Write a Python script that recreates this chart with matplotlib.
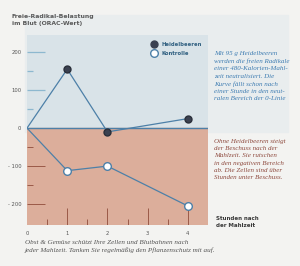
import matplotlib.pyplot as plt
from matplotlib.lines import Line2D
from matplotlib.patches import Rectangle

# data
hours = [0, 1, 2, 4]
heidelbeeren = [0, 155, -10, 25]
kontrolle = [0, -112, -100, -205]

y_ticks = [200, 100, 0, -100, -200]
y_labels = ["200", "100", "0", "- 100", "- 200"]
x_ticks = [0, 1, 2, 3, 4]

line_col = "#4d80a8"
blue_bg = "#d9e3e8"
pink_bg = "#dcae9b"
tick_blue = "#8db8cf"
tick_brown = "#9a5a48"

plt.rcParams["font.family"] = ["DejaVu Sans"]

fig = plt.figure(figsize=(3.0, 2.66), dpi=100)
fig.patch.set_facecolor("#f3f3f1")

# light panel behind plot top + right text
panel = Rectangle((25 / 300, 1 - 132 / 266), 263 / 300, 117 / 266,
                  transform=fig.transFigure, color="#e9edee", zorder=-5)
fig.patches.append(panel)

ax = fig.add_axes([27 / 300, 41 / 266, 181 / 300, 190 / 266], zorder=1)
ax.set_facecolor("none")
ax.set_xlim(0, 4.5)
ax.set_ylim(-255, 245)
ax.axhspan(0, 245, color=blue_bg, zorder=0)
ax.axhspan(-255, 0, color=pink_bg, zorder=0)
ax.axhline(0, color=line_col, lw=1.0, zorder=1)

# decorative tick lines inside plot
for v in [200, 100]:
    ax.hlines(v, 0, 0.45, color=tick_blue, lw=0.9, zorder=1)
for v in [150, 50]:
    ax.hlines(v, 0, 0.15, color=tick_blue, lw=0.9, zorder=1)
for v in [-100, -200]:
    ax.hlines(v, 0, 0.45, color=tick_brown, lw=0.7, zorder=1)
for v in [-50, -150]:
    ax.hlines(v, 0, 0.15, color=tick_brown, lw=0.7, zorder=1)
for v in [1, 2, 3, 4]:
    ax.vlines(v, -255, -210, color=tick_brown, lw=0.7, zorder=1)
for v in [0.5, 1.5, 2.5, 3.5]:
    ax.vlines(v, -255, -240, color=tick_brown, lw=0.7, zorder=1)

ax.plot(hours, heidelbeeren, color=line_col, lw=0.9, zorder=2)
ax.plot(hours[1:], heidelbeeren[1:], "o", ms=5, color="#3b4150",
        mec="#2a2f3a", zorder=3)
ax.plot(hours, kontrolle, color=line_col, lw=0.9, zorder=2)
ax.plot(hours[1:], kontrolle[1:], "o", ms=5.5, mfc="white", mec=line_col,
        mew=1.0, zorder=3)

ax.set_yticks(y_ticks, y_labels)
ax.set_xticks(x_ticks, [str(x) for x in x_ticks])
ax.tick_params(length=0, labelsize=3.8, colors="#555555", pad=4)
for s in ax.spines.values():
    s.set_visible(False)

fig.text(12 / 300, 1 - 20 / 266, "Freie-Radikal-Belastung\nim Blut (ORAC-Wert)",
         fontsize=4.4, fontweight="bold", color="#5a5a5a", va="center",
         linespacing=1.5)

handles = [Line2D([], [], ls="", marker="o", ms=5, color="#3b4150"),
           Line2D([], [], ls="", marker="o", ms=5.5, mfc="white", mec=line_col)]
leg = fig.legend(handles, ["Heidelbeeren", "Kontrolle"], loc="upper left",
                 bbox_to_anchor=(150 / 300, 1 - 40 / 266), frameon=False,
                 fontsize=3.8, handletextpad=0.9, labelspacing=0.7,
                 handlelength=0.8, borderaxespad=0)
leg.set_zorder(5)
for t in leg.get_texts():
    t.set_fontweight("bold")
    t.set_color("#2f5f80")

serif = dict(family="Liberation Serif", style="italic", fontsize=5.0,
             linespacing=1.55, va="top")
fig.text(214 / 300, 1 - 51 / 266,
         "Mit 95 g Heidelbeeren\nwerden die freien Radikale\n"
         "einer 480-Kalorien-Mahl-\nzeit neutralisiert. Die\n"
         "Kurve fällt schon nach\neiner Stunde in den neut-\n"
         "ralen Bereich der 0-Linie", color="#3f7db2", **serif)
fig.text(214 / 300, 1 - 139 / 266,
         "Ohne Heidelbeeren steigt\nder Beschuss nach der\n"
         "Mahlzeit. Sie rutschen\nin den negativen Bereich\n"
         "ab. Die Zellen sind über\nStunden unter Beschuss.",
         color="#8e4a3e", **serif)

fig.text(216 / 300, 1 - 222 / 266, "Stunden nach\nder Mahlzeit", fontsize=4.0,
         fontweight="bold", color="#3a3a3a", va="center", linespacing=1.5)

fig.text(25 / 300, 1 - 240 / 266,
         "Obst & Gemüse schützt Ihre Zellen und Blutbahnen nach\n"
         "jeder Mahlzeit. Tanken Sie regelmäßig den Pflanzenschutz mit auf.",
         family="Liberation Serif", style="italic", fontsize=5.1,
         color="#555555", va="top", linespacing=1.45)

fig.savefig("out.png", dpi=100, facecolor=fig.get_facecolor())
